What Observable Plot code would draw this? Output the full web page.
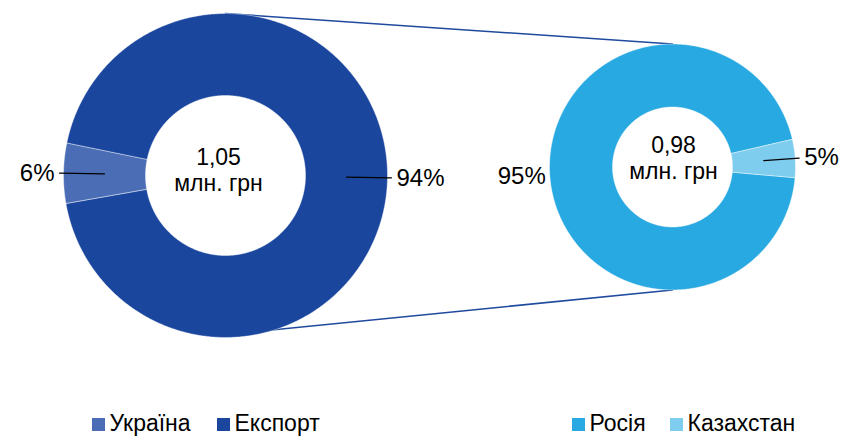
<!DOCTYPE html>
<html>
<head>
<meta charset="utf-8">
<script src="https://cdn.jsdelivr.net/npm/d3@7"></script>
<script src="https://cdn.jsdelivr.net/npm/@observablehq/plot@0.6"></script>
<style>
  html, body { margin: 0; padding: 0; background: #fff; }
  svg { display: block; }
</style>
</head>
<body>
<div id="chart"></div>
<script>
// ---- data ----
const leftCategories = ["Україна", "Експорт"];
const leftValues = [6, 94];
const leftTotal = "1,05";
const rightCategories = ["Росія", "Казахстан"];
const rightValues = [95, 5];
const rightTotal = "0,98";
const unitLabel = "млн. грн";
const noLeader = ["Росія"];

// ---- styling / layout ----
const colorMap = {
  "Україна": "#4a6db6",
  "Експорт": "#1b469e",
  "Росія": "#29a9e1",
  "Казахстан": "#7ecdef"
};
const FONT = "Liberation Sans, Arial, sans-serif";
const deg = Math.PI / 180;

const donuts = [
  {cats: leftCategories, vals: leftValues, total: leftTotal, cx: 225, cy: 175, r0: 80, r1: 162, start: 260 * deg, tx: 218, ty: 169},
  {cats: rightCategories, vals: rightValues, total: rightTotal, cx: 672, cy: 166.5, r0: 60, r1: 123, start: 95 * deg, tx: 673, ty: 157}
];

const pt = (d, r, a) => ({x: d.cx + r * Math.sin(a), y: d.cy - r * Math.cos(a)});

const slicePts = [];
const leaders = [];
const labels = [];
const centers = [];
for (const d of donuts) {
  const pie = d3.pie().sort(null).startAngle(d.start).endAngle(d.start + 2 * Math.PI);
  const arcs = pie(d.vals);
  arcs.forEach((a, i) => {
    const cat = d.cats[i];
    const n = Math.max(4, Math.ceil((a.endAngle - a.startAngle) / (0.5 * deg)));
    for (let k = 0; k <= n; k++) {
      const ang = a.startAngle + (a.endAngle - a.startAngle) * k / n;
      slicePts.push({cat, ...pt(d, d.r1, ang)});
    }
    for (let k = n; k >= 0; k--) {
      const ang = a.startAngle + (a.endAngle - a.startAngle) * k / n;
      slicePts.push({cat, ...pt(d, d.r0, ang)});
    }
    slicePts.push({cat, ...pt(d, d.r1, a.startAngle)});
    const mid = (a.startAngle + a.endAngle) / 2;
    const right = Math.sin(mid) > 0;
    if (!noLeader.includes(cat)) {
      leaders.push({id: cat, ...pt(d, (d.r0 + d.r1) / 2, mid)});
      leaders.push({id: cat, ...pt(d, d.r1 + 4, mid)});
      labels.push({text: d.vals[i] + "%", anchor: right ? "start" : "end", ...pt(d, d.r1 + 9, mid)});
    } else {
      labels.push({text: d.vals[i] + "%", anchor: right ? "start" : "end", ...pt(d, d.r1 + 4, mid)});
    }
  });
  centers.push({text: d.total + "\n" + unitLabel, x: d.tx, y: d.ty});
}

const L = donuts[0], R = donuts[1];
const connectors = [
  {id: "top", x: L.cx, y: L.cy - L.r1}, {id: "top", x: R.cx, y: R.cy - R.r1},
  {id: "bot", x: L.cx, y: L.cy + L.r1 - 3}, {id: "bot", x: R.cx, y: R.cy + R.r1}
];

// legend
const legendX = [92, 217, 572, 670];
const legendCats = [...leftCategories, ...rightCategories];
const legend = legendCats.map((c, i) => ({cat: c, x: legendX[i]}));

const chart = Plot.plot({
  width: 842,
  height: 436,
  margin: 0,
  x: {domain: [0, 842], range: [0, 842], axis: null},
  y: {domain: [0, 436], range: [0, 436], axis: null},
  color: {domain: Object.keys(colorMap), range: Object.values(colorMap)},
  style: {fontFamily: FONT, background: "#fff"},
  marks: [
    Plot.line(connectors, {x: "x", y: "y", z: "id", stroke: "#1f4a9e", strokeWidth: 1.5}),
    Plot.line(slicePts, {x: "x", y: "y", z: "cat", fill: "cat", stroke: "#ffffff", strokeWidth: 0.6, strokeOpacity: 0.7, curve: "linear"}),
    Plot.line(leaders, {x: "x", y: "y", z: "id", stroke: "#000", strokeWidth: 1.2}),
    Plot.text(labels.filter(d => d.anchor === "start"), {x: "x", y: "y", text: "text", textAnchor: "start", fontSize: 24, fill: "#000"}),
    Plot.text(labels.filter(d => d.anchor === "end"), {x: "x", y: "y", text: "text", textAnchor: "end", fontSize: 24, fill: "#000"}),
    Plot.text(centers, {x: "x", y: "y", text: "text", fontSize: 23, lineHeight: 1.13, fill: "#000"}),
    Plot.rect(legend, {x1: d => d.x, x2: d => d.x + 13, y1: 418, y2: 431, fill: "cat"}),
    Plot.text(legend, {x: d => d.x + 17, y: 423, text: "cat", textAnchor: "start", fontSize: 23, fill: "#000"})
  ]
});
document.getElementById("chart").appendChild(chart);
</script>
</body>
</html>
